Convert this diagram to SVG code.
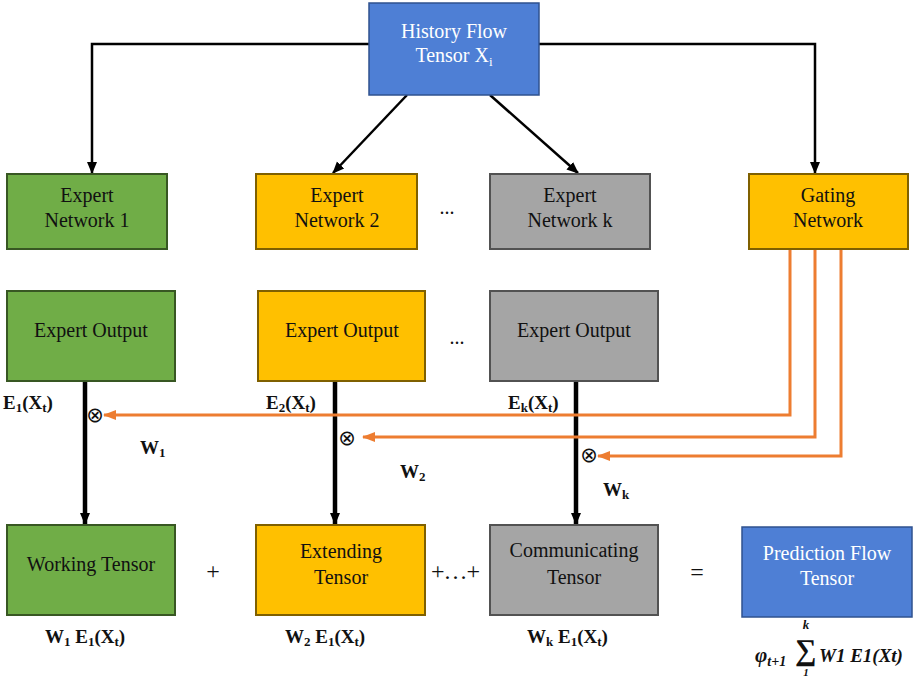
<svg xmlns="http://www.w3.org/2000/svg" width="916" height="681" viewBox="0 0 916 681">
<defs>
<style>
.t{font-family:"Liberation Serif","Times New Roman",serif;font-size:20px;fill:#111;text-anchor:middle}
.w{fill:#fff}
.b{font-family:"Liberation Serif","Times New Roman",serif;font-size:19px;font-weight:bold;fill:#111}
.op{font-family:"Liberation Serif","Times New Roman",serif;font-size:24px;fill:#111;text-anchor:middle}
.ot{font-family:"DejaVu Sans",sans-serif;font-size:21px;fill:#111;text-anchor:middle}
.f{font-family:"Liberation Serif","DejaVu Serif",serif;font-weight:bold;font-style:italic;fill:#111}
.blue{fill:#4E7FD5;stroke:#2F528F;stroke-width:1.5}
.green{fill:#70AD47;stroke:#385723;stroke-width:2}
.yellow{fill:#FFC000;stroke:#7F6000;stroke-width:2}
.gray{fill:#A5A5A5;stroke:#525252;stroke-width:2}
.blk{fill:none;stroke:#000;stroke-width:2.5}
.thick{fill:none;stroke:#000;stroke-width:4.5}
.org{fill:none;stroke:#ED7D31;stroke-width:3}
</style>
<marker id="ab" markerUnits="userSpaceOnUse" markerWidth="12" markerHeight="12" viewBox="0 0 12 12" refX="11" refY="6" orient="auto">
<path d="M0,1 L12,6 L0,11 Z" fill="#000"/>
</marker>
<marker id="ao" markerUnits="userSpaceOnUse" markerWidth="13" markerHeight="12" viewBox="0 0 13 12" refX="12" refY="6" orient="auto">
<path d="M0,1 L13,6 L0,11 Z" fill="#ED7D31"/>
</marker>
</defs>

<g id="connectors">
<path class="blk" d="M369,44 H92 V173" marker-end="url(#ab)"/>
<path class="blk" d="M539,44 H815 V173" marker-end="url(#ab)"/>
<path class="blk" d="M407,95 L333,173" marker-end="url(#ab)"/>
<path class="blk" d="M490,95 L578,173" marker-end="url(#ab)"/>
<path class="thick" d="M85,381 V524" marker-end="url(#ab)"/>
<path class="thick" d="M335,381 V524" marker-end="url(#ab)"/>
<path class="thick" d="M576,381 V524" marker-end="url(#ab)"/>
<path class="org" d="M790,249 V415 H104" marker-end="url(#ao)"/>
<path class="org" d="M815,249 V437 H363" marker-end="url(#ao)"/>
<path class="org" d="M841,249 V456 H598" marker-end="url(#ao)"/>
<text class="ot" x="95" y="422">⊗</text>
<text class="ot" x="347" y="445">⊗</text>
<text class="ot" x="589" y="462">⊗</text>
</g>

<g id="history">
<rect class="blue" x="369" y="3" width="170" height="92"/>
<text class="t w" x="454" y="38">History Flow</text>
<text class="t w" x="454" y="62">Tensor X<tspan font-size="13" dy="4">i</tspan></text>
</g>

<g id="expert-network-1">
<rect class="green" x="7" y="174" width="160" height="75"/>
<text class="t" x="87" y="202">Expert</text>
<text class="t" x="87" y="227">Network 1</text>
</g>
<g id="expert-network-2">
<rect class="yellow" x="256" y="174" width="161" height="75"/>
<text class="t" x="337" y="202">Expert</text>
<text class="t" x="337" y="227">Network 2</text>
</g>
<text class="t" x="447" y="214">...</text>
<g id="expert-network-k">
<rect class="gray" x="490" y="174" width="160" height="75"/>
<text class="t" x="570" y="202">Expert</text>
<text class="t" x="570" y="227">Network k</text>
</g>
<g id="gating-network">
<rect class="yellow" x="749" y="174" width="159" height="75"/>
<text class="t" x="828" y="202">Gating</text>
<text class="t" x="828" y="227">Network</text>
</g>

<g id="expert-output-1">
<rect class="green" x="7" y="291" width="168" height="90"/>
<text class="t" x="91" y="337">Expert Output</text>
</g>
<g id="expert-output-2">
<rect class="yellow" x="258" y="291" width="167" height="90"/>
<text class="t" x="342" y="337">Expert Output</text>
</g>
<text class="t" x="457" y="344">...</text>
<g id="expert-output-k">
<rect class="gray" x="490" y="291" width="168" height="90"/>
<text class="t" x="574" y="337">Expert Output</text>
</g>

<g id="labels">
<text class="b" x="3" y="409">E<tspan font-size="13" dy="3">1</tspan><tspan dy="-3">(X</tspan><tspan font-size="13" dy="3">t</tspan><tspan dy="-3">)</tspan></text>
<text class="b" x="140" y="454">W<tspan font-size="13" dy="3">1</tspan></text>
<text class="b" x="266" y="409">E<tspan font-size="13" dy="3">2</tspan><tspan dy="-3">(X</tspan><tspan font-size="13" dy="3">t</tspan><tspan dy="-3">)</tspan></text>
<text class="b" x="400" y="478">W<tspan font-size="13" dy="3">2</tspan></text>
<text class="b" x="508" y="409">E<tspan font-size="13" dy="3">k</tspan><tspan dy="-3">(X</tspan><tspan font-size="13" dy="3">t</tspan><tspan dy="-3">)</tspan></text>
<text class="b" x="603" y="496">W<tspan font-size="13" dy="3">k</tspan></text>
<text class="b" x="45" y="643">W<tspan font-size="13" dy="3">1</tspan><tspan dy="-3"> E</tspan><tspan font-size="13" dy="3">1</tspan><tspan dy="-3">(X</tspan><tspan font-size="13" dy="3">t</tspan><tspan dy="-3">)</tspan></text>
<text class="b" x="285" y="643">W<tspan font-size="13" dy="3">2</tspan><tspan dy="-3"> E</tspan><tspan font-size="13" dy="3">1</tspan><tspan dy="-3">(X</tspan><tspan font-size="13" dy="3">t</tspan><tspan dy="-3">)</tspan></text>
<text class="b" x="527" y="643">W<tspan font-size="13" dy="3">k</tspan><tspan dy="-3"> E</tspan><tspan font-size="13" dy="3">1</tspan><tspan dy="-3">(X</tspan><tspan font-size="13" dy="3">t</tspan><tspan dy="-3">)</tspan></text>
</g>

<g id="working-tensor">
<rect class="green" x="7" y="525" width="168" height="90"/>
<text class="t" x="91" y="571">Working Tensor</text>
</g>
<text class="op" x="213" y="579">+</text>
<g id="extending-tensor">
<rect class="yellow" x="256" y="525" width="169" height="90"/>
<text class="t" x="341" y="558">Extending</text>
<text class="t" x="341" y="584">Tensor</text>
</g>
<text class="op" x="455" y="579" letter-spacing="-1">+…+</text>
<g id="communicating-tensor">
<rect class="gray" x="490" y="525" width="168" height="90"/>
<text class="t" x="574" y="557">Communicating</text>
<text class="t" x="574" y="584">Tensor</text>
</g>
<text class="op" x="697" y="580">=</text>
<g id="prediction-flow-tensor">
<rect class="blue" x="742" y="527" width="170" height="90"/>
<text class="t w" x="827" y="560">Prediction Flow</text>
<text class="t w" x="827" y="585">Tensor</text>
</g>

<g id="formula">
<text class="f" x="755" y="662" font-size="21">φ<tspan font-size="14" dy="4">t+1</tspan></text>
<text class="f" x="806" y="660" font-size="30" font-style="normal" font-weight="normal" text-anchor="middle">∑</text>
<text class="f" x="806" y="629" font-size="13" text-anchor="middle">k</text>
<text class="f" x="806" y="676" font-size="11" text-anchor="middle">1</text>
<text class="f" x="819" y="662" font-size="19">W1 E1(Xt)</text>
</g>
</svg>
